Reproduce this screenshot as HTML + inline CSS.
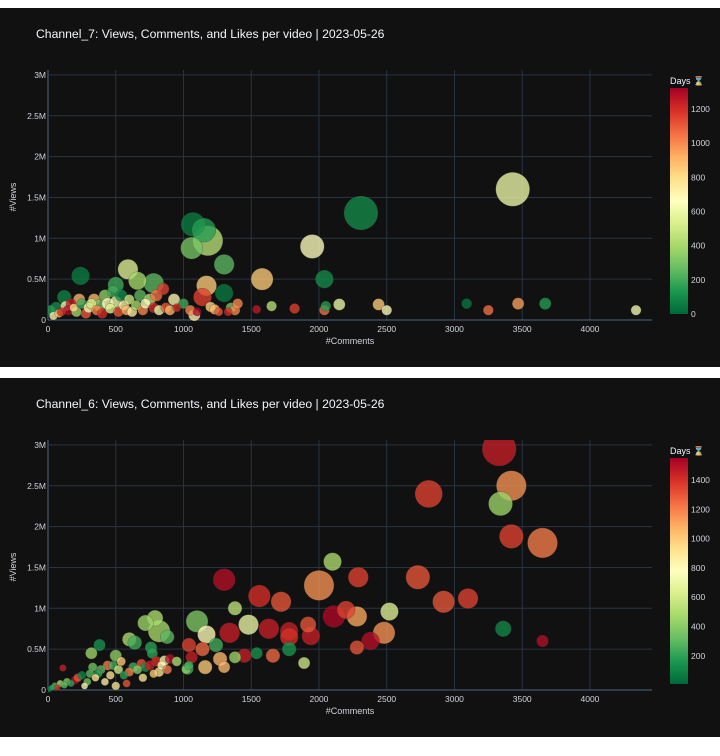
<!DOCTYPE html>
<html><head><meta charset="utf-8">
<style>
html,body{margin:0;padding:0;background:#fff;}
body{width:720px;height:756px;position:relative;overflow:hidden;font-family:"Liberation Sans","DejaVu Sans",sans-serif;}
.panel{position:absolute;left:0;width:720px;height:359px;background:#111111;}
svg text{font-family:"Liberation Sans","DejaVu Sans",sans-serif;}
</style></head>
<body>
<div class="panel" style="top:8px"><svg id="c7" width="720" height="359"></svg></div>
<div class="panel" style="top:378px"><svg id="c6" width="720" height="359"></svg></div>
<script>
// ---- Channel_7 data ----
const c7Comments=[3430,2310,1950,1180,1070,1150,1060,1300,1580,2040,240,590,660,780,500,1300,1170,1140,2150,2440,2500,3090,3250,3470,3670,4340,1540,1650,1820,2040,2050,
20,40,60,80,100,120,130,150,170,190,210,230,250,280,300,320,340,360,380,400,420,440,460,480,500,520,540,560,580,600,620,650,680,700,720,750,780,800,820,850,870,900,930,950,1000,1050,1080,1100,1200,1230,1260,1330,1350,1380,1400];
const c7Views=[1.6,1.31,0.9,0.97,1.17,1.1,0.88,0.68,0.5,0.5,0.54,0.62,0.48,0.45,0.43,0.33,0.42,0.28,0.19,0.19,0.12,0.2,0.12,0.2,0.2,0.12,0.13,0.17,0.14,0.12,0.17,
0.12,0.05,0.15,0.08,0.1,0.28,0.17,0.12,0.2,0.15,0.1,0.25,0.2,0.08,0.15,0.2,0.25,0.12,0.18,0.08,0.3,0.2,0.14,0.35,0.22,0.1,0.3,0.18,0.12,0.25,0.1,0.18,0.3,0.12,0.2,0.25,0.15,0.3,0.12,0.38,0.15,0.12,0.25,0.15,0.2,0.12,0.06,0.1,0.16,0.13,0.1,0.1,0.15,0.12,0.2];
const c7Days=[600,100,650,450,60,150,300,250,850,100,60,550,400,250,200,50,850,1150,600,850,680,40,1050,950,150,620,1250,450,1150,1050,150,
150,700,100,900,1200,80,600,1300,1250,800,400,900,200,1100,700,500,900,1000,300,1200,350,650,550,200,600,1100,100,700,900,500,750,400,250,1000,650,450,1200,1050,600,1150,1100,900,700,1200,200,1000,700,1300,800,900,1100,1200,300,1000,1000];
const c7Likes=[100,100,50,78,50,50,42,35,42,28,28,35,28,35,22,28,35,28,12,12,9,9,9,12,12,9,6,9,9,9,9,
9,6,12,6,6,17,9,9,9,6,9,12,9,9,9,9,12,9,12,9,12,12,9,12,12,9,12,9,9,9,9,9,12,9,9,12,9,12,9,12,9,9,12,6,9,9,12,6,9,9,6,6,9,9,9];
const c7XTicks=[0,500,1000,1500,2000,2500,3000,3500,4000];
const c7YTicks=[0,0.5,1,1.5,2,2.5,3];
const c7YLabels=["0","0.5M","1M","1.5M","2M","2.5M","3M"];
const c7CbTicks=[0,200,400,600,800,1000,1200];

// ---- Channel_6 data ----
const c6Comments=[3330,3420,2810,3340,3420,3650,2730,2920,3100,2520,2480,2380,2280,3360,3650,2000,2100,2290,2110,2200,2280,1300,1560,1720,1380,1480,1340,1630,1780,1780,1920,1940,1780,1660,1540,1450,1890,1100,1170,790,720,820,880,600,640,380,320,500,760,1240,1040,1060,1140,1160,1270,1300,1030,1380,
10,30,50,70,90,110,120,140,170,200,220,250,270,290,310,330,350,370,390,420,440,460,480,500,520,540,560,580,600,630,660,690,700,720,750,770,780,800,820,840,860,880,900,950,1020,1040];
const c6Views=[2.95,2.5,2.4,2.28,1.88,1.8,1.38,1.08,1.12,0.96,0.7,0.6,0.52,0.75,0.6,1.28,1.57,1.38,0.9,0.98,0.9,1.35,1.15,1.08,1.0,0.8,0.7,0.75,0.72,0.65,0.8,0.66,0.5,0.42,0.45,0.42,0.33,0.84,0.68,0.88,0.82,0.72,0.65,0.62,0.58,0.55,0.45,0.42,0.52,0.55,0.55,0.4,0.5,0.28,0.38,0.28,0.26,0.4,
0.01,0.03,0.05,0.03,0.08,0.27,0.06,0.1,0.08,0.12,0.15,0.18,0.05,0.1,0.2,0.28,0.15,0.2,0.25,0.1,0.3,0.18,0.3,0.05,0.25,0.35,0.18,0.08,0.22,0.28,0.25,0.32,0.15,0.28,0.3,0.45,0.2,0.35,0.22,0.3,0.36,0.25,0.38,0.35,0.25,0.3];
const c6Days=[1450,1150,1350,450,1350,1200,1300,1300,1350,650,1150,1500,1300,120,1500,1150,500,1350,1520,1350,1100,1500,1400,1300,550,700,1450,1450,1450,1400,1300,1450,150,1250,150,1450,600,380,800,500,450,480,300,500,250,150,450,420,200,250,1350,1450,1250,1000,1050,1050,250,450,
100,200,300,1400,500,1450,300,400,200,1500,1300,100,800,350,300,350,900,200,300,850,1200,900,250,900,600,1000,200,1300,1200,250,400,1300,900,150,1450,200,1000,1400,900,800,700,1200,1500,500,400,250];
const c6Likes=[100,78,65,50,50,78,50,42,35,28,42,28,17,22,12,78,28,35,42,28,35,42,42,35,17,35,35,35,28,28,22,28,17,17,12,17,12,42,28,22,22,42,17,17,17,12,12,12,12,17,17,12,17,17,17,12,12,12,
3,3,4,3,4,4,4,5,4,6,6,6,4,5,6,7,5,6,7,5,8,6,7,6,7,7,6,5,7,8,7,8,6,8,8,10,6,9,8,7,9,7,8,8,7,7];
const c6XTicks=[0,500,1000,1500,2000,2500,3000,3500,4000];
const c6YTicks=[0,0.5,1,1.5,2,2.5,3];
const c6YLabels=["0","0.5M","1M","1.5M","2M","2.5M","3M"];
const c6CbTicks=[200,400,600,800,1000,1200,1400];

const stops=[[0,104,55],[26,152,80],[102,189,99],[166,217,106],[217,239,139],[255,255,191],[254,224,139],[253,174,97],[244,109,67],[215,48,39],[165,0,38]];
function colorAt(t){t=Math.max(0,Math.min(1,t));const p=t*10,i=Math.min(9,Math.floor(p)),f=p-i;const a=stops[i],b=stops[i+1];
return 'rgb('+a.map((v,k)=>Math.round(v+(b[k]-v)*f)).join(',')+')';}
const NS='http://www.w3.org/2000/svg';
function mk(parent,tag,attrs,text){const e=document.createElementNS(NS,tag);for(const k in attrs)e.setAttribute(k,attrs[k]);if(text!==undefined)e.textContent=text;parent.appendChild(e);return e;}

function draw(svg,title,comments,views,days,likes,xTicks,yTicks,yLabels,cbTicks,dMin,dMax,prefix){
  const L=48,R=652,T=62,B=312,xMax=4458,yMax=3.06;
  const xS=v=>L+v/xMax*(R-L), yS=v=>B-v/yMax*(B-T);
  const t=mk(svg,'text',{x:36,y:30,fill:'#f2f5fa','font-size':'12.2'},title);
  
  
  const g=mk(svg,'g',{});
  
  
  xTicks.forEach(v=>{
    const ln=mk(g,'line',{x1:xS(v),x2:xS(v),y1:T,y2:B,stroke:v===0?'#506784':'#283442','stroke-width':1});
    
    
    const tx=mk(svg,'text',{x:xS(v),y:B+12,fill:'#d0d4da','font-size':'8.5','text-anchor':'middle'},String(v));
    
    
  });
  yTicks.forEach((v,i)=>{
    const ln=mk(g,'line',{x1:L,x2:R,y1:yS(v),y2:yS(v),stroke:v===0?'#506784':'#283442','stroke-width':1});
    
    
    const ty=mk(svg,'text',{x:L-2,y:yS(v)+3,fill:'#d0d4da','font-size':'8.5','text-anchor':'end'},yLabels[i]);
    
    
  });
  const xt=mk(svg,'text',{x:350,y:336,fill:'#d0d4da','font-size':'9','text-anchor':'middle'},'#Comments');
  
  
  const yt=mk(svg,'text',{x:0,y:0,fill:'#d0d4da','font-size':'9','text-anchor':'middle',transform:'translate(16,189) rotate(-90)'},'#Views');
  
  
  const clip=mk(svg,'clipPath',{id:prefix+'clip'});mk(clip,'rect',{x:L,y:T,width:R-L,height:B-T+20});
  const pg=mk(svg,'g',{'clip-path':'url(#'+prefix+'clip)'});
  
  
  const idx=comments.map((_,i)=>i).sort((a,b)=>likes[b]-likes[a]);
  idx.forEach(i=>{
    const r=17*Math.sqrt(likes[i]/100);
    const c=mk(pg,'circle',{cx:xS(comments[i]),cy:yS(views[i]),r:r,fill:colorAt((days[i]-dMin)/(dMax-dMin)),'fill-opacity':0.78,stroke:'#333','stroke-opacity':0.5,'stroke-width':0.5});
    
    
  });
  // colorbar
  const cbX=670,cbW=18,cbT=80,cbB=306;
  const grad=mk(svg,'linearGradient',{id:prefix+'grad',x1:0,y1:1,x2:0,y2:0});
  stops.forEach((s,k)=>mk(grad,'stop',{offset:k/10,'stop-color':'rgb('+s.join(',')+')'}));
  const cb=mk(svg,'rect',{x:cbX,y:cbT,width:cbW,height:cbB-cbT,fill:'url(#'+prefix+'grad)'});
  
  
  const ct=mk(svg,'text',{x:cbX,y:cbT-4,fill:'#f2f5fa','font-size':'9'},'Days ⌛');
  
  
  cbTicks.forEach(v=>{
    const y=cbB-(v-dMin)/(dMax-dMin)*(cbB-cbT);
    const tt=mk(svg,'text',{x:cbX+cbW+3,y:y+3,fill:'#d0d4da','font-size':'8.5'},String(v));
    
    
  });
}
draw(document.getElementById('c7'),'Channel_7: Views, Comments, and Likes per video | 2023-05-26',c7Comments,c7Views,c7Days,c7Likes,c7XTicks,c7YTicks,c7YLabels,c7CbTicks,0,1323,'a');
draw(document.getElementById('c6'),'Channel_6: Views, Comments, and Likes per video | 2023-05-26',c6Comments,c6Views,c6Days,c6Likes,c6XTicks,c6YTicks,c6YLabels,c6CbTicks,8,1550,'b');
</script>
</body></html>
